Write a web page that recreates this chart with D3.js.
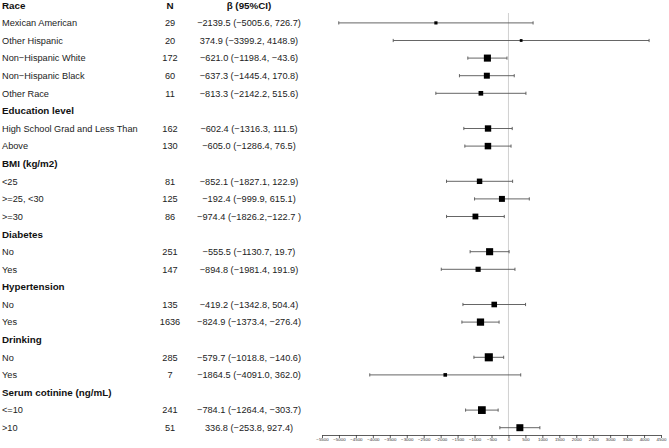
<!DOCTYPE html>
<html>
<head>
<meta charset="utf-8">
<script src="https://cdn.jsdelivr.net/npm/d3@7"></script>
<style>
	body { margin: 0; background: #fff; }
	svg { display: block; font-family: "Liberation Sans", Arial, sans-serif; }
</style>
</head>
<body>
<div id="chart"></div>
<script>
const groups = ["Race", "Education level", "BMI (kg/m2)", "Diabetes", "Hypertension", "Drinking", "Serum cotinine (ng/mL)"];

const subgroups = [
	"Mexican American", "Other Hispanic", "Non\u2212Hispanic White", "Non\u2212Hispanic Black", "Other Race",
	"High School Grad and Less Than", "Above",
	"<25", ">=25, <30", ">=30",
	"No", "Yes",
	"No", "Yes",
	"No", "Yes",
	"<=10", ">10"
];
const subgroupGroup = [0, 0, 0, 0, 0, 1, 1, 2, 2, 2, 3, 3, 4, 4, 5, 5, 6, 6];

const nValues = [29, 20, 172, 60, 11, 162, 130, 81, 125, 86, 251, 147, 135, 1636, 285, 7, 241, 51];
const beta = [-2139.5, 374.9, -621.0, -637.3, -813.3, -602.4, -605.0, -852.1, -192.4, -974.4, -555.5, -894.8, -419.2, -824.9, -579.7, -1864.5, -784.1, 336.8];
const ciLow = [-5005.6, -3399.2, -1198.4, -1445.4, -2142.2, -1316.3, -1286.4, -1827.1, -999.9, -1826.2, -1130.7, -1981.4, -1342.8, -1373.4, -1018.8, -4091.0, -1264.4, -253.8];
const ciHigh = [726.7, 4148.9, -43.6, 170.8, 515.6, 111.5, 76.5, 122.9, 615.1, -122.7, 19.7, 191.9, 504.4, -276.4, -140.6, 362.0, -303.7, 927.4];

const betaLabels = [
	"\u22122139.5 (\u22125005.6, 726.7)", "374.9 (\u22123399.2, 4148.9)", "\u2212621.0 (\u22121198.4, \u221243.6)",
	"\u2212637.3 (\u22121445.4, 170.8)", "\u2212813.3 (\u22122142.2, 515.6)",
	"\u2212602.4 (\u22121316.3, 111.5)", "\u2212605.0 (\u22121286.4, 76.5)",
	"\u2212852.1 (\u22121827.1, 122.9)", "\u2212192.4 (\u2212999.9, 615.1)", "\u2212974.4 (\u22121826.2,\u2212122.7 )",
	"\u2212555.5 (\u22121130.7, 19.7)", "\u2212894.8 (\u22121981.4, 191.9)",
	"\u2212419.2 (\u22121342.8, 504.4)", "\u2212824.9 (\u22121373.4, \u2212276.4)",
	"\u2212579.7 (\u22121018.8, \u2212140.6)", "\u22121864.5 (\u22124091.0, 362.0)",
	"\u2212784.1 (\u22121264.4, \u2212303.7)", "336.8 (\u2212253.8, 927.4)"
];

const xTickValues = d3.range(-5500, 4501, 500);

const width = 669;
const height = 448;

// build the row layout: a header row, then its subgroups
const rows = [];
groups.forEach((g, gi) => {
	rows.push({ type: "header", label: g });
	subgroups.forEach((s, i) => {
		if (subgroupGroup[i] === gi) {
			rows.push({ type: "item", label: s, n: nValues[i], beta: beta[i], lo: ciLow[i], hi: ciHigh[i], text: betaLabels[i] });
		}
	});
});

const svg = d3.select("#chart")
	.append("svg")
	.attr("width", width)
	.attr("height", height);

const x = d3.scaleLinear().domain([-5500, 4500]).range([322, 661]);
const y = d3.scaleLinear().domain([0, rows.length - 1]).range([5.3, 427.7]);
const axisY = 435;

// box side grows with precision of the estimate
const items = rows.filter(r => r.type === "item");
const maxInv = d3.max(items, d => 1 / (d.hi - d.lo));
const boxSize = d3.scaleSqrt().domain([0, maxInv]).range([0, 8.1]);

// column headers
const head = svg.append("g").attr("font-weight", "bold").attr("font-size", 9.8).attr("fill", "#111");
head.append("text").attr("x", 170).attr("y", y(0)).attr("dy", "0.35em").attr("text-anchor", "middle").text("N");
head.append("text").attr("x", 249).attr("y", y(0)).attr("dy", "0.35em").attr("text-anchor", "middle").text("\u03b2 (95%CI)");

// row labels
svg.append("g")
	.selectAll("text.label")
	.data(rows)
	.join("text")
	.attr("class", "label")
	.attr("x", 2)
	.attr("y", (d, i) => y(i))
	.attr("dy", "0.35em")
	.attr("font-size", d => d.type === "header" ? 9.8 : 9.2)
	.attr("font-weight", d => d.type === "header" ? "bold" : "normal")
	.attr("fill", d => d.type === "header" ? "#111" : "#222")
	.text(d => d.label);

const rowIndex = rows.map((r, i) => i).filter(i => rows[i].type === "item");

svg.append("g")
	.selectAll("text.n")
	.data(rowIndex)
	.join("text")
	.attr("x", 170)
	.attr("y", i => y(i))
	.attr("dy", "0.35em")
	.attr("text-anchor", "middle")
	.attr("font-size", 9.2)
	.attr("fill", "#222")
	.text(i => rows[i].n);

svg.append("g")
	.selectAll("text.ci")
	.data(rowIndex)
	.join("text")
	.attr("x", 249)
	.attr("y", i => y(i))
	.attr("dy", "0.35em")
	.attr("text-anchor", "middle")
	.attr("font-size", 9.2)
	.attr("fill", "#222")
	.text(i => rows[i].text);

// zero reference line
svg.append("line")
	.attr("x1", x(0)).attr("x2", x(0))
	.attr("y1", 13).attr("y2", axisY)
	.attr("stroke", "#d0d0d0")
	.attr("stroke-width", 1);

// confidence intervals
const ci = svg.append("g").attr("stroke", "#555").attr("stroke-width", 0.9);
ci.selectAll("line.bar")
	.data(rowIndex)
	.join("line")
	.attr("x1", i => x(rows[i].lo))
	.attr("x2", i => x(rows[i].hi))
	.attr("y1", i => y(i))
	.attr("y2", i => y(i));
ci.selectAll("line.capl")
	.data(rowIndex)
	.join("line")
	.attr("x1", i => x(rows[i].lo))
	.attr("x2", i => x(rows[i].lo))
	.attr("y1", i => y(i) - 1.6)
	.attr("y2", i => y(i) + 1.6);
ci.selectAll("line.caph")
	.data(rowIndex)
	.join("line")
	.attr("x1", i => x(rows[i].hi))
	.attr("x2", i => x(rows[i].hi))
	.attr("y1", i => y(i) - 1.6)
	.attr("y2", i => y(i) + 1.6);

// point estimates
svg.append("g")
	.selectAll("rect")
	.data(rowIndex)
	.join("rect")
	.attr("x", i => x(rows[i].beta) - boxSize(1 / (rows[i].hi - rows[i].lo)) / 2)
	.attr("y", i => y(i) - boxSize(1 / (rows[i].hi - rows[i].lo)) / 2)
	.attr("width", i => boxSize(1 / (rows[i].hi - rows[i].lo)))
	.attr("height", i => boxSize(1 / (rows[i].hi - rows[i].lo)))
	.attr("fill", "#000");

// x axis
const xAxis = d3.axisBottom(x)
	.tickValues(xTickValues)
	.tickSize(3)
	.tickSizeOuter(0)
	.tickFormat(d3.format("d"));

const gx = svg.append("g")
	.attr("transform", `translate(0,${axisY})`)
	.call(xAxis);
gx.select(".domain").attr("stroke", "#333").attr("stroke-width", 0.8);
gx.selectAll(".tick line").attr("stroke", "#333").attr("stroke-width", 0.8);
gx.selectAll(".tick text")
	.attr("font-size", 4.4)
	.attr("font-family", "Liberation Sans, Arial, sans-serif")
	.attr("fill", "#333")
	.attr("dy", "0.55em")
	.attr("y", 4);
</script>
</body>
</html>
